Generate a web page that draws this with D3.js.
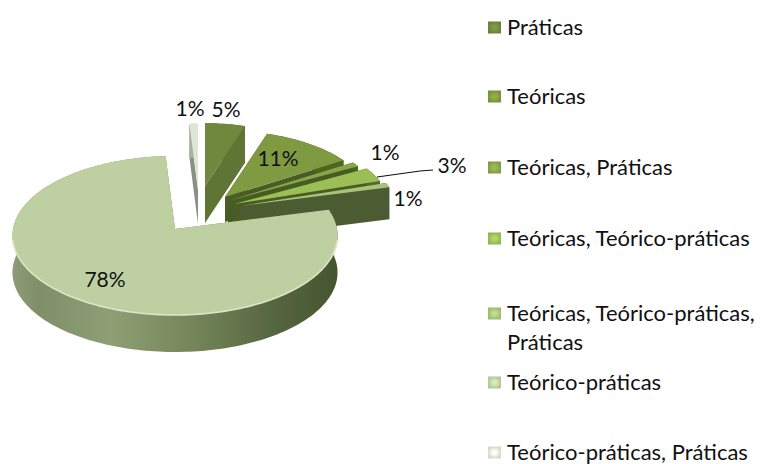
<!DOCTYPE html>
<html><head><meta charset="utf-8">
<script src="https://cdn.jsdelivr.net/npm/d3@7"></script>
<style>html,body{margin:0;padding:0;background:#fff}svg{display:block}text{font-family:Lato,"Open Sans",sans-serif;fill:#111}</style>
</head><body><svg id="c" width="763" height="464"></svg>
<script>
const categories = ["Práticas","Teóricas","Teóricas, Práticas","Teóricas, Teórico-práticas","Teóricas, Teórico-práticas, Práticas","Teórico-práticas","Teórico-práticas, Práticas"];
const values = [5,11,1,3,1,78,1];
const labels = ["5%","11%","1%","3%","1%","78%","1%"];
const topColors = ["#70883c","#7f9a3f","#88a54a","#9cbf55","#a9c47a","#bed0a2","#dfe6d6"];
const wallColors = ["#5f7535","#4f661f","#4d6423","#54692c","#4c5c34","#6f7f56","#a9b0a4"];
const cutColors = ["#5f7535","#4a5c26","#465c20","#4a5c28","#4c5c32","#6f7f56","#8a9088"];
// layout: apex of each slice's top face, radius factor, depth
const apexX = [205,225,228,234,240,175,198];
const apexY = [186,197,201,204,206,229,190];
const radFactor = [.85,.9,.95,.97,.97,1,.9];
const depth = [37,25,28,30,32,37,34];
const order = [6,0,1,2,3,4,5];
const labelX = [226,278,385,452,408,105,190];
const labelY = [108,157,151,164,197,278,107];
const legendY = [26,95,166,237,312,381,451];

const svg = d3.select("#c");
const defs = svg.append("defs");
defs.append("filter").attr("id","soft").append("feGaussianBlur").attr("stdDeviation",.55);

const arcs = d3.pie().value(d=>d).sort(null)(values);
const rx = 162, ryA = 79, persp = .0816;
function project(i, a, r, dz){
  const u = Math.sin(a)*r*radFactor[i], v = Math.cos(a)*r*radFactor[i];
  const w = 1 + persp*v;
  return [apexX[i] + u*rx/w, apexY[i] - v*ryA/w + dz];
}
const line = d3.line();
function arcPts(i,d,dz){
  const n = Math.max(4,Math.ceil((d.endAngle-d.startAngle)*40));
  return d3.range(n+1).map(k=>project(i,d.startAngle+(d.endAngle-d.startAngle)*k/n,1,dz));
}
const wg = defs.append("linearGradient").attr("id","wallBig").attr("gradientUnits","userSpaceOnUse")
  .attr("x1",13).attr("x2",338).attr("y1",0).attr("y2",0);
[[0,"#8d9c78"],[.08,"#7f8f68"],[.3,"#8f9f74"],[.55,"#75865a"],[.8,"#56663f"],[1,"#46552f"]].forEach(s=>wg.append("stop").attr("offset",s[0]).attr("stop-color",s[1]));

const pie = svg.append("g").attr("filter","url(#soft)");
order.forEach(i=>{
  const d = arcs[i], g = pie.append("g");
  const t = depth[i];
  const top = arcPts(i,d,0), bot = arcPts(i,d,t).reverse();
  const A0 = project(i,0,0,0), A1 = project(i,0,0,t);
  [d.startAngle,d.endAngle].forEach(a=>{
    const p0 = project(i,a,1,0), p1 = project(i,a,1,t);
    g.append("path").attr("d",line([A0,p0,p1,A1])+"Z").attr("fill",cutColors[i]);
  });
  g.append("path").attr("d",line(top.concat(bot))+"Z").attr("fill",i===5?"url(#wallBig)":wallColors[i]);
  g.append("path").attr("d",line([A0].concat(top))+"Z").attr("fill",topColors[i]);
  if(i===5){
    const n = top.filter(p=>p[1]>apexY[i]+10);
    g.append("path").attr("d",line(n)).attr("fill","none").attr("stroke","#dbe6c8").attr("stroke-width",1.6);
  }
});

svg.append("g").selectAll("text").data(labels).join("text")
  .attr("x",(d,i)=>labelX[i]).attr("y",(d,i)=>labelY[i]).attr("text-anchor","middle")
  .attr("dominant-baseline","central").attr("font-size",21).text(d=>d);
svg.append("path").attr("d",line([[377,177],[420,171],[433,170]])).attr("fill","none").attr("stroke","#111").attr("stroke-width",1.2);

const lg = svg.append("g");
categories.forEach((c,i)=>{
  const y = legendY[i];
  const gr = defs.append("radialGradient").attr("id","lg"+i);
  gr.append("stop").attr("offset",.3).attr("stop-color",d3.color(topColors[i]).brighter(.35));
  gr.append("stop").attr("offset",1).attr("stop-color",d3.color(topColors[i]).darker(.15));
  lg.append("rect").attr("x",488).attr("y",y-4.5).attr("width",13).attr("height",12).attr("fill","url(#lg"+i+")");
  const parts = i===4 ? ["Teóricas, Teórico-práticas,","Práticas"] : [c];
  parts.forEach((t,k)=>lg.append("text").attr("x",507).attr("y",y+k*29).attr("dominant-baseline","central").attr("font-size",22).text(t));
});
</script></body></html>
